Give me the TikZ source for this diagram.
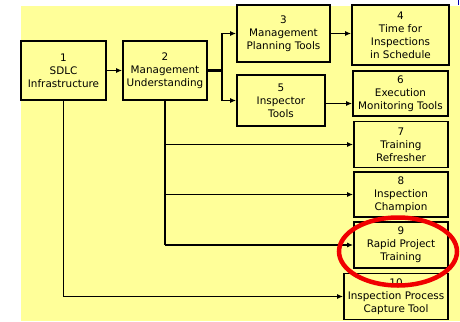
\documentclass[tikz,border=0pt]{standalone}
\usepackage{fontspec}
\setmainfont{DejaVu Sans}
\usetikzlibrary{arrows.meta}

\definecolor{padyellow}{RGB}{255,255,153}
\definecolor{ringred}{RGB}{240,0,0}

\tikzset{
  stepbox/.style={draw=black, line width=1.7pt, fill=padyellow, align=center,
    inner sep=0pt, font=\fontsize{10.4}{13}\selectfont},
  link/.style={line width=1.7pt, -{Latex[length=6pt,width=5pt]}},
  trunk/.style={line width=1.7pt},
}

\begin{document}
\begin{tikzpicture}[x=1pt,y=-1pt]
            \useasboundingbox (0,0) rectangle (460,321);
            
            % Backdrop of the slide
            \fill [padyellow] (21,6) rectangle (460,321);%
            \fill [white] (451,0) rectangle (460,6);%
            \draw [blue!70!black, line width=1pt] (458.5,0) -- (458.5,5);%
            
            % Boxes of the first two steps
            \node [stepbox, minimum width=85pt, minimum height=59pt] (sdlc) at (63.5,70.5) {1\\SDLC\\Infrastructure};%
            \node [stepbox, minimum width=84pt, minimum height=59pt] (mgmt) at (165,70.5) {2\\Management\\Understanding};%
            
            % Boxes of the middle column
            \node [stepbox, minimum width=93pt, minimum height=57pt] (plan) at (283.5,33.5) {3\\Management\\Planning Tools};%
            \node [stepbox, minimum width=88pt, minimum height=51pt] (insp) at (281,100.5) {5\\Inspector\\Tools};%
            
            % Boxes of the right column
            \node [stepbox, minimum width=97pt, minimum height=60pt] (time) at (400.5,35) {4\\Time for\\Inspections\\in Schedule};%
            \node [stepbox, minimum width=95pt, minimum height=45pt] (exec) at (400.5,93.5) {6\\Execution\\Monitoring Tools};%
            \node [stepbox, minimum width=94pt, minimum height=46pt] (refr) at (401,144.5) {7\\Training\\Refresher};%
            \node [stepbox, minimum width=94pt, minimum height=45pt] (champ) at (401,194.5) {8\\Inspection\\Champion};%
            \node [stepbox, minimum width=94pt, minimum height=46pt] (rapid) at (401,245) {9\\Rapid Project\\Training};%
            \node [stepbox, minimum width=104pt, minimum height=46pt] (capt) at (396,296.5) {10\\Inspection Process\\Capture Tool};%
            
            % Junction right of box 2
            \coordinate (fork) at (222,70.5);%
            
            % Drawing connectors
            \draw [link] (sdlc) -- (mgmt);%
            \draw [trunk, line width=2.4pt] (mgmt) -- (fork);%
            \draw [link] (fork) |- (plan.west);%
            \draw [link] (fork) |- (insp.west);%
            \draw [link] (plan.east) -- (plan.east -| time.west);%
            \draw [link] ([yshift=-3pt]insp.east) -- ([yshift=-3pt]insp.east -| exec.west);%
            
            % Drawing lines down from box 2
            \draw [trunk] (mgmt.south) -- (mgmt.south |- rapid.west);%
            \draw [link] (mgmt.south |- refr.west) -- (refr.west);%
            \draw [link] (mgmt.south |- champ.west) -- (champ.west);%
            \draw [link] (mgmt.south |- rapid.west) -- (rapid.west);%
            
            % Drawing line down from box 1
            \draw [link] (sdlc.south) |- (capt.west);%
            
            % Marking box 9 by a ring
            \draw [ringred, line width=4.5pt] (398,251.5) ellipse (59 and 34);%
        \end{tikzpicture}
\end{document}
